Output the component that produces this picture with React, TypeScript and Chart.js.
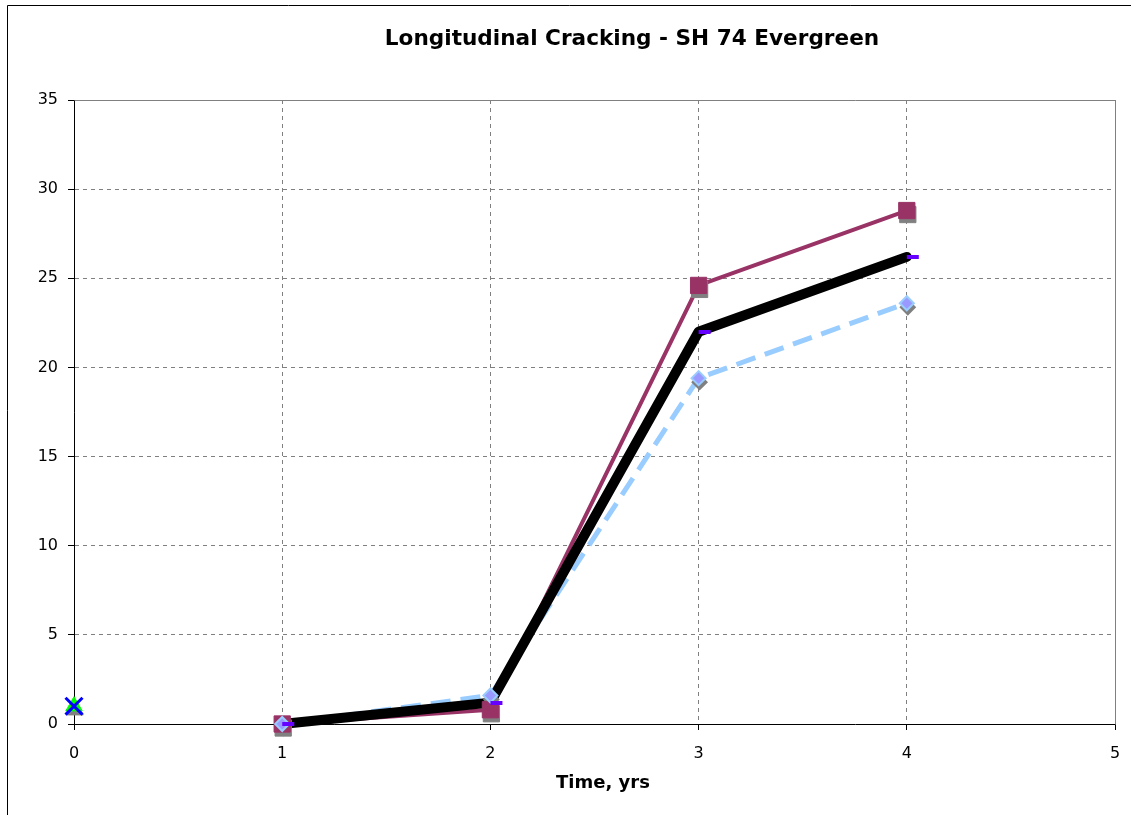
import { useEffect, useRef } from "react";
import { Chart, registerables } from "chart.js";

Chart.register(...registerables);

// Chart text
const chartTitle = "Longitudinal Cracking - SH 74 Evergreen";
const xAxisTitle = "Time, yrs";

// Axis ranges and tick steps
const xRange = [0, 5];
const xStep = 1;
const yRange = [0, 35];
const yStep = 5;

// Cracking observations by age (years)
const years = [1, 2, 3, 4];
const seriesSquares = [0, 0.8, 24.6, 28.8];
const seriesThick = [0, 1.2, 22.0, 26.2];
const seriesDashed = [0, 1.6, 19.4, 23.6];

// Initial reading at age 0
const startYears = [0];
const startValues = [1];

const toPoints = (xs: number[], ys: number[]) => xs.map((x, i) => ({ x, y: ys[i] }));

const FONT = '"DejaVu Sans", Verdana, sans-serif';
const SHADOW = "#808080";

// Short bar marker that sits to the right of its data point
function makeDashMarker(color: string) {
  const c = document.createElement("canvas");
  c.width = 26;
  c.height = 4;
  const g = c.getContext("2d")!;
  g.fillStyle = color;
  g.fillRect(13, 0, 12, 4);
  return c;
}

// Drop-shadow layers: the same points, drawn grey and nudged down-right
const shadowShift = {
  id: "shadowShift",
  beforeDatasetDraw(chart: any, args: any) {
    const ds = chart.data.datasets[args.index];
    if (ds.isShadow) {
      chart.ctx.save();
      chart.ctx.translate(1, 4);
    }
  },
  afterDatasetDraw(chart: any, args: any) {
    const ds = chart.data.datasets[args.index];
    if (ds.isShadow) chart.ctx.restore();
  },
};

const frameAndTitles = {
  id: "frameAndTitles",
  beforeDraw(chart: any) {
    const { ctx, width, height } = chart;
    ctx.save();
    ctx.fillStyle = "#ffffff";
    ctx.fillRect(0, 0, width, height);
    ctx.strokeStyle = "#000000";
    ctx.lineWidth = 1;
    ctx.beginPath();
    ctx.moveTo(7.5, height);
    ctx.lineTo(7.5, 5.5);
    ctx.lineTo(width, 5.5);
    ctx.stroke();
    ctx.restore();
  },
  beforeDatasetsDraw(chart: any) {
    const { ctx, chartArea: a } = chart;
    ctx.save();
    ctx.strokeStyle = "#808080";
    ctx.lineWidth = 1;
    ctx.beginPath();
    ctx.moveTo(Math.round(a.left) + 0.5, Math.round(a.top) + 0.5);
    ctx.lineTo(Math.round(a.right) + 0.5, Math.round(a.top) + 0.5);
    ctx.lineTo(Math.round(a.right) + 0.5, Math.round(a.bottom) + 0.5);
    ctx.stroke();
    ctx.restore();
  },
  afterDraw(chart: any) {
    const { ctx } = chart;
    ctx.save();
    ctx.fillStyle = "#000000";
    ctx.textAlign = "center";
    ctx.textBaseline = "middle";
    ctx.font = `bold 21.6px ${FONT}`;
    ctx.fillText(chartTitle, 632, 39);
    ctx.font = `bold 18px ${FONT}`;
    ctx.fillText(xAxisTitle, 603, 783);
    ctx.restore();
  },
};

const marker = (xs: number[], ys: number[], style: any, radius: number, fill: string, border: string, bw: number, order: number, extra: any = {}) => ({
  data: toPoints(xs, ys),
  showLine: false,
  pointStyle: style,
  pointRadius: radius,
  backgroundColor: fill,
  borderColor: border,
  pointBorderWidth: bw,
  order,
  clip: false,
  ...extra,
});

export default function App() {
  const canvasRef = useRef<HTMLCanvasElement | null>(null);

  useEffect(() => {
    const canvas = canvasRef.current;
    if (!canvas) return;
    const dash = makeDashMarker("#6600ff");

    const chart = new Chart(canvas, {
      type: "scatter",
      data: {
        datasets: [
          // markers
          marker(startYears, startValues, "crossRot", 12, "#0000ff", "#0000ff", 3, 1),
          marker(startYears, startValues, "triangle", 9.5, "#00ff00", "#00ff00", 1, 2),
          marker(years, seriesThick, dash, 6, "#6600ff", "#6600ff", 0, 3),
          marker(years, seriesDashed, "rectRot", 7, "#9999ff", "#99ccff", 2, 4),
          marker(years, seriesSquares, "rect", 11.5, "#993366", "#993366", 1, 5),
          // marker shadows
          marker(years, seriesDashed, "rectRot", 7, SHADOW, SHADOW, 2, 6, { isShadow: true }),
          marker(years, seriesSquares, "rect", 11.5, SHADOW, SHADOW, 1, 7, { isShadow: true }),
          marker(startYears, startValues, "triangle", 9.5, SHADOW, SHADOW, 1, 8, { isShadow: true }),
          // lines
          {
            data: toPoints(years, seriesThick),
            showLine: true,
            pointRadius: 0,
            borderColor: "#000000",
            borderWidth: 10,
            borderCapStyle: "round",
            borderJoinStyle: "round",
            order: 9,
            clip: false,
          },
          {
            data: toPoints(years, seriesDashed),
            showLine: true,
            pointRadius: 0,
            borderColor: "#99ccff",
            borderWidth: 5,
            borderDash: [20, 10],
            borderCapStyle: "butt",
            borderJoinStyle: "round",
            order: 10,
            clip: false,
          },
          {
            data: toPoints(years, seriesSquares),
            showLine: true,
            pointRadius: 0,
            borderColor: "#993366",
            borderWidth: 4,
            borderCapStyle: "round",
            borderJoinStyle: "round",
            order: 11,
            clip: false,
          },
        ] as any,
      },
      options: {
        animation: false,
        responsive: false,
        devicePixelRatio: 1,
        events: [],
        layout: { padding: { left: 0, right: 16, top: 100, bottom: 0 } },
        plugins: {
          legend: { display: false },
          tooltip: { enabled: false },
          title: { display: false },
        },
        scales: {
          x: {
            type: "linear",
            min: xRange[0],
            max: xRange[1],
            ticks: {
              stepSize: xStep,
              color: "#000000",
              font: { family: FONT, size: 16 },
              padding: 14,
            },
            grid: {
              color: "#808080",
              lineWidth: 1,
              tickLength: 6,
              tickColor: "#000000",
            },
            border: { display: true, color: "#000000", width: 1, dash: [4, 4] },
            afterFit: (s: any) => {
              s.height = 91;
              s.paddingLeft = 0;
              s.paddingRight = 0;
            },
          },
          y: {
            type: "linear",
            min: yRange[0],
            max: yRange[1],
            ticks: {
              stepSize: yStep,
              color: "#000000",
              font: { family: FONT, size: 16 },
              padding: 10,
            },
            grid: {
              color: "#808080",
              lineWidth: 1,
              tickLength: 6,
              tickColor: "#000000",
            },
            border: { display: true, color: "#000000", width: 1, dash: [4, 4] },
            afterFit: (s: any) => {
              s.width = 74;
            },
          },
        },
      },
      plugins: [frameAndTitles, shadowShift],
    } as any);

    return () => chart.destroy();
  }, []);

  return (
    <div style={{ position: "fixed", left: 0, top: 0, width: 1131, height: 815, background: "#fff" }}>
      <canvas ref={canvasRef} width={1131} height={815} style={{ display: "block" }} />
    </div>
  );
}
